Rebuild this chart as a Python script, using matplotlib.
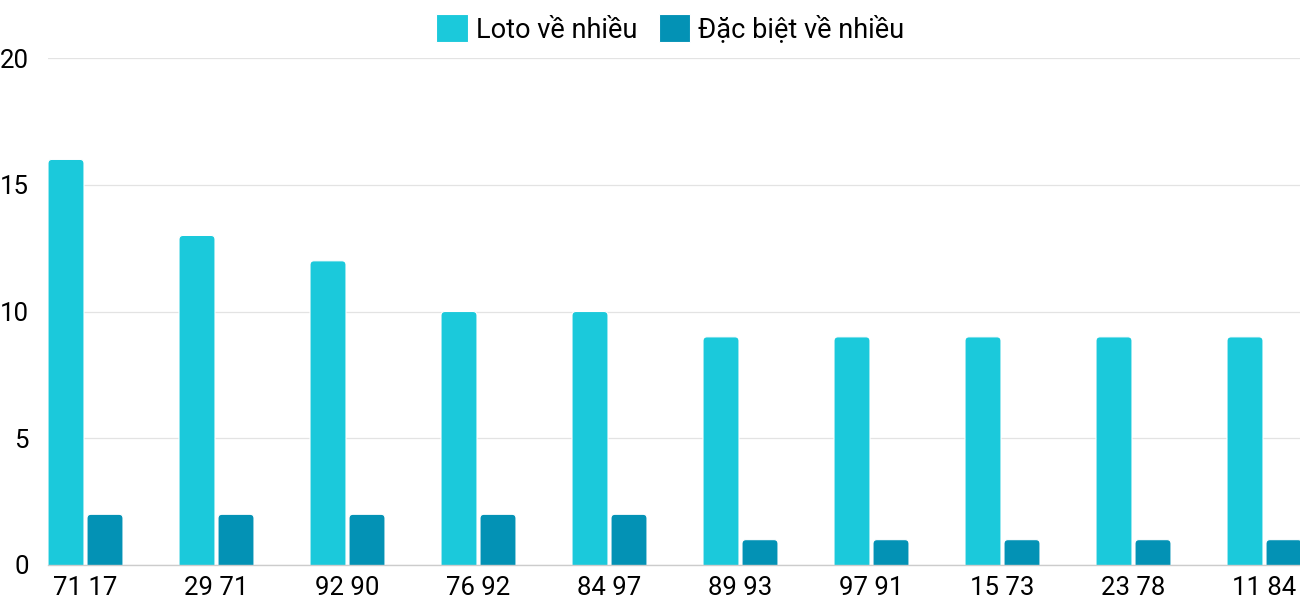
import matplotlib
matplotlib.use("Agg")
import matplotlib.pyplot as plt
from matplotlib.patches import FancyBboxPatch, Patch
import numpy as np

categories = ["71 17", "29 71", "92 90", "76 92", "84 97", "89 93", "97 91", "15 73", "23 78", "11 84"]
loto = [16, 13, 12, 10, 10, 9, 9, 9, 9, 9]
dacbiet = [2, 2, 2, 2, 2, 1, 1, 1, 1, 1]
series_names = ["Loto về nhiều", "Đặc biệt về nhiều"]
yticks = [0, 5, 10, 15, 20]

c1 = "#1BC9DB"
c2 = "#0392B5"

plt.rcParams['font.family'] = ['Roboto', 'DejaVu Sans']

W, H = 1300, 600
fig = plt.figure(figsize=(W / 100, H / 100), dpi=100)
ax = fig.add_axes([48 / W, 35 / H, (1300 - 48) / W, (565 - 58) / H])

x = np.arange(len(categories))
bw = 36 / 131
off = 19.5 / 131
b1 = ax.bar(x - off, loto, bw, color=c1)
b2 = ax.bar(x + off, dacbiet, bw, color=c2)

ax.set_xlim(-37.5 / 131, len(categories) - 1 + 35.5 / 131)
ax.set_ylim(0, 20)

# rounded-top replacements
px_x = 131.0
px_y = 507 / 20.0
r = 4.0 / px_x
asp = px_x / px_y
for bars, col in ((b1, c1), (b2, c2)):
    for p in bars:
        p.set_visible(False)
        fb = FancyBboxPatch((p.get_x(), -0.5), p.get_width(), p.get_height() + 0.5,
                            boxstyle=f"round,pad=0,rounding_size={r}",
                            mutation_aspect=asp, facecolor=col, edgecolor="white",
                            linewidth=0.8, zorder=3)
        ax.add_patch(fb)

ax.set_yticks(yticks)
ax.set_xticks(x)
ax.set_xticklabels(categories)
ax.tick_params(axis='both', length=0, labelsize=18.5, colors="black")
ax.tick_params(axis='y', pad=14)
ax.tick_params(axis='x', pad=8)
for lab in ax.get_yticklabels():
    lab.set_horizontalalignment('right')

ax.grid(axis='y', color="#e3e3e3", linewidth=0.9, zorder=0)
ax.set_axisbelow(True)
for s in ("top", "right", "left"):
    ax.spines[s].set_visible(False)
ax.spines["bottom"].set_color("#cccccc")
ax.spines["bottom"].set_linewidth(1.0)
ax.spines["bottom"].set_zorder(4)

handles = [Patch(facecolor=c1, edgecolor="white", linewidth=0.8),
           Patch(facecolor=c2, edgecolor="white", linewidth=0.8)]
leg = ax.legend(handles, series_names, loc="center", bbox_to_anchor=(0.497, 1 + 29 / 507), ncol=2,
                frameon=False, fontsize=19.5, handlelength=1.15, handleheight=1.2,
                handletextpad=0.3, columnspacing=0.8, borderaxespad=0, borderpad=0)

fig.savefig("out.png", dpi=100)
